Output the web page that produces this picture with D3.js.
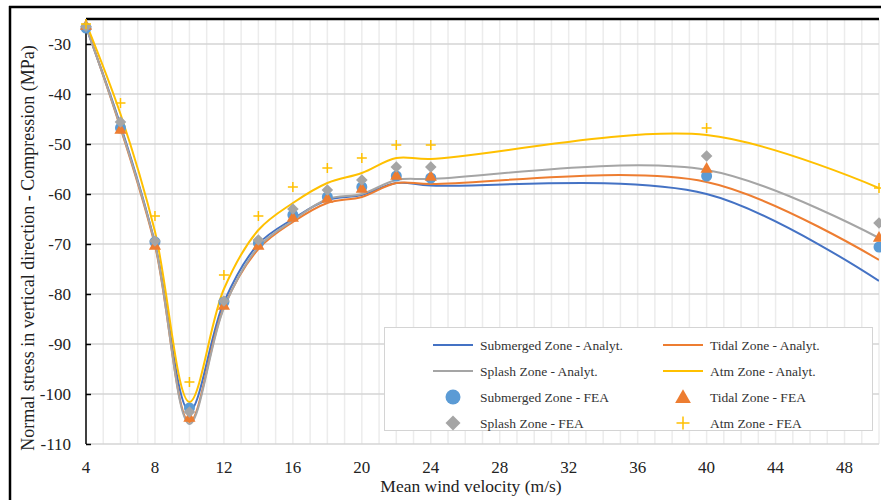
<!DOCTYPE html>
<meta charset="utf-8">
<style>
body { margin: 0; background: #fff; }
svg { display: block; font-family: "Liberation Serif", "Times New Roman", serif; }
.grid-v line { stroke: #ececec; stroke-width: 1.5; }
.grid-h line { stroke: #d4d4d4; stroke-width: 1.5; }
.tick-label { font-size: 17px; fill: #222; }
.legend text { font-size: 13.5px; fill: #333; }
</style>
<svg width="881" height="500"></svg>
<script src="https://cdn.jsdelivr.net/npm/d3@7"></script>
<script>

// wind velocity (m/s)
var velocity = [4, 6, 8, 10, 12, 14, 16, 18, 20, 22, 24, 40, 50];

// analytical curves (MPa)
var subAnalyt    = [-26.6, -46.2, -69.8, -103.4, -81.6, -70.0, -65.0, -61.2, -60.2, -57.8, -58.3, -60.0, -77.4];
var tidalAnalyt  = [-26.3, -46.8, -70.3, -105.6, -82.6, -71.0, -65.6, -61.8, -60.6, -57.8, -58.0, -57.6, -73.2];
var splashAnalyt = [-26.5, -46.6, -70.0, -106.0, -82.8, -70.6, -65.3, -61.0, -60.0, -57.2, -57.0, -55.2, -68.8];
var atmAnalyt    = [-25.8, -44.0, -67.5, -101.6, -79.0, -67.2, -61.8, -57.8, -55.8, -52.8, -53.0, -48.2, -58.8];

// FEA results (MPa)
var subFEA    = [-26.8, -46.8, -69.6, -102.8, -81.6, -69.8, -64.2, -60.6, -58.6, -56.4, -56.8, -56.4, -70.6];
var tidalFEA  = [-26.2, -47.0, -70.2, -104.6, -82.2, -70.2, -64.6, -60.8, -58.8, -56.2, -56.4, -54.8, -68.6];
var splashFEA = [-26.5, -45.6, -69.4, -103.6, -81.4, -69.2, -63.0, -59.2, -57.2, -54.6, -54.6, -52.4, -65.8];
var atmFEA    = [-26.0, -41.8, -64.4, -97.6, -76.2, -64.4, -58.6, -54.8, -52.8, -50.2, -50.2, -46.8, -58.8];

var xTicks = [4, 8, 12, 16, 20, 24, 28, 32, 36, 40, 44, 48];
var yTicks = [-110, -100, -90, -80, -70, -60, -50, -40, -30];

var svg = d3.select("svg"),
    plotLeft = 86, plotRight = 879, plotTop = 19, plotBottom = 444;

var x = d3.scaleLinear().domain([4, 50]).range([plotLeft, plotRight]),
    y = d3.scaleLinear().domain([-110, -25]).range([plotBottom, plotTop]);

svg.append("rect").attr("width", 881).attr("height", 500).attr("fill", "#fff");

// gridlines
svg.append("g").attr("class", "grid-v")
  .selectAll("line").data(d3.range(5, 51))
  .enter().append("line")
    .attr("x1", function(d) { return x(d); })
    .attr("x2", function(d) { return x(d); })
    .attr("y1", plotTop).attr("y2", plotBottom);

svg.append("g").attr("class", "grid-h")
  .selectAll("line").data(yTicks)
  .enter().append("line")
    .attr("x1", plotLeft).attr("x2", plotRight)
    .attr("y1", function(d) { return y(d); })
    .attr("y2", function(d) { return y(d); });

// y axis (ticks inside)
var yAxis = svg.append("g")
    .attr("transform", "translate(" + plotLeft + ",0)")
    .call(d3.axisRight(y).tickValues(yTicks).tickSize(5).tickFormat(""));
yAxis.select(".domain").remove();
yAxis.selectAll(".tick line").attr("stroke", "#000").attr("stroke-width", 1.5);
svg.append("line").attr("x1", plotLeft).attr("x2", plotLeft).attr("y1", plotTop).attr("y2", plotBottom)
    .attr("stroke", "#000").attr("stroke-width", 1.5);

svg.append("g").selectAll("text").data(yTicks)
  .enter().append("text")
    .attr("class", "tick-label")
    .attr("x", 71)
    .attr("y", function(d) { return y(d); })
    .attr("dy", "0.35em")
    .attr("text-anchor", "end")
    .text(function(d) { return d; });

svg.append("g").selectAll("text").data(xTicks)
  .enter().append("text")
    .attr("class", "tick-label")
    .attr("x", function(d) { return x(d); })
    .attr("y", 467)
    .attr("dy", "0.35em")
    .attr("text-anchor", "middle")
    .text(function(d) { return d; });

// borders
svg.append("line").attr("x1", plotLeft).attr("x2", plotRight).attr("y1", plotTop).attr("y2", plotTop)
    .attr("stroke", "#000").attr("stroke-width", 2.5);
svg.append("line").attr("x1", 9).attr("x2", 881).attr("y1", 7).attr("y2", 7)
    .attr("stroke", "#000").attr("stroke-width", 2.5);
svg.append("line").attr("x1", 10).attr("x2", 10).attr("y1", 6).attr("y2", 500)
    .attr("stroke", "#000").attr("stroke-width", 2.5);

// titles
svg.append("text")
    .attr("transform", "translate(28,248) rotate(-90)")
    .attr("text-anchor", "middle")
    .attr("dy", "0.35em")
    .style("font-size", "18px")
    .attr("fill", "#222")
    .text("Normal stress in vertical direction - Compression (MPa)");

svg.append("text")
    .attr("x", 471).attr("y", 486)
    .attr("text-anchor", "middle")
    .attr("dy", "0.35em")
    .style("font-size", "17.5px")
    .attr("fill", "#222")
    .text("Mean wind velocity (m/s)");

svg.append("clipPath").attr("id", "plot")
  .append("rect").attr("x", plotLeft).attr("y", plotTop)
    .attr("width", plotRight - plotLeft).attr("height", plotBottom - plotTop);

var line = d3.line()
    .x(function(d, i) { return x(velocity[i]); })
    .y(function(d) { return y(d); })
    .curve(d3.curveCatmullRom.alpha(0.5));

var lines = [
  {name: "Submerged Zone - Analyt.", values: subAnalyt, color: "#4472C4"},
  {name: "Tidal Zone - Analyt.", values: tidalAnalyt, color: "#ED7D31"},
  {name: "Splash Zone - Analyt.", values: splashAnalyt, color: "#A5A5A5"},
  {name: "Atm Zone - Analyt.", values: atmAnalyt, color: "#FFC000"}
];

function marker(type, s) {
  if (type == "circle") return d3.symbol(d3.symbolCircle, Math.PI * s * s)();
  if (type == "triangle") return "M0," + (-s * 1.05) + "L" + (s * 1.05) + "," + (s * 0.8) + "L" + (-s * 1.05) + "," + (s * 0.8) + "Z";
  if (type == "diamond") return "M0," + (-s) + "L" + s + ",0L0," + s + "L" + (-s) + ",0Z";
  return "M" + (-s) + ",0L" + s + ",0M0," + (-s) + "L0," + s;
}

var points = [
  {name: "Submerged Zone - FEA", values: subFEA, color: "#5B9BD5", type: "circle", size: 5.5},
  {name: "Tidal Zone - FEA", values: tidalFEA, color: "#ED7D31", type: "triangle", size: 5.8},
  {name: "Splash Zone - FEA", values: splashFEA, color: "#A5A5A5", type: "diamond", size: 5.8},
  {name: "Atm Zone - FEA", values: atmFEA, color: "#FFC000", type: "plus", size: 5}
];

var plot = svg.append("g").attr("clip-path", "url(#plot)");

plot.selectAll(".series")
    .data(lines)
  .enter().append("path")
    .attr("class", "series")
    .attr("fill", "none")
    .attr("stroke", function(d) { return d.color; })
    .attr("stroke-width", 2)
    .attr("d", function(d) { return line(d.values); });

points.forEach(function(p) {
  svg.append("g").selectAll("path")
      .data(p.values)
    .enter().append("path")
      .attr("transform", function(d, i) { return "translate(" + x(velocity[i]) + "," + y(d) + ")"; })
      .attr("d", marker(p.type, p.size))
      .attr("fill", p.type == "plus" ? "none" : p.color)
      .attr("stroke", p.type == "plus" ? p.color : "none")
      .attr("stroke-width", 1.5);
});

// legend
var legend = svg.append("g").attr("class", "legend");
legend.append("rect")
    .attr("x", 384.5).attr("y", 327.5).attr("width", 488).attr("height", 103)
    .attr("fill", "#fff").attr("stroke", "#d4d4d4");

var entries = lines.concat(points);
entries.forEach(function(e, i) {
  var col = i % 2, row = Math.floor(i / 2),
      cx = col ? 683 : 453, tx = col ? 710 : 480, ry = 345 + row * 26;
  if (e.type) {
    legend.append("path")
        .attr("transform", "translate(" + cx + "," + ry + ")")
        .attr("d", marker(e.type, e.type == "plus" ? 6.5 : 7.5))
        .attr("fill", e.type == "plus" ? "none" : e.color)
        .attr("stroke", e.type == "plus" ? e.color : "none")
        .attr("stroke-width", 1.5);
  } else {
    legend.append("line")
        .attr("x1", cx - 20).attr("x2", cx + 20).attr("y1", ry).attr("y2", ry)
        .attr("stroke", e.color).attr("stroke-width", 2);
  }
  legend.append("text")
      .attr("x", tx).attr("y", ry).attr("dy", "0.35em")
      .text(e.name);
});

</script>
